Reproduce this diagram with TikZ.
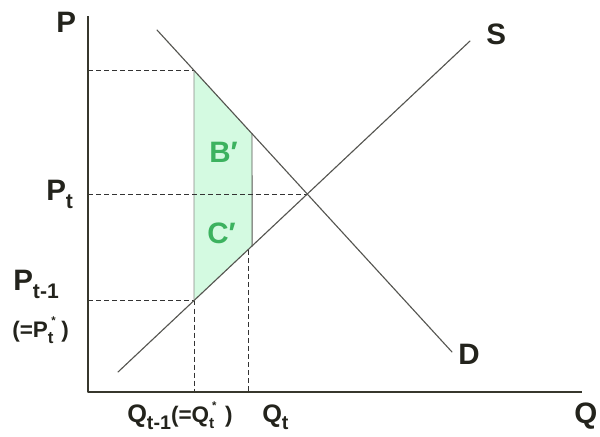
\documentclass[tikz,border=0pt]{standalone}
\usepackage{fontspec}
\setmainfont{Liberation Sans}
\usetikzlibrary{calc}

\definecolor{axisgray}{RGB}{55,55,45}
\definecolor{curvegray}{RGB}{85,85,80}
\definecolor{textdark}{RGB}{35,35,28}
\definecolor{areagreen}{RGB}{60,178,95}
\definecolor{areafill}{RGB}{212,250,225}

% subscript (size, text) and subscript with a star set just above its right side
\newcommand{\lsub}[2]{\raisebox{-0.28em}{\fontsize{#1}{#1}\selectfont #2}}
\newcommand{\lsubsup}[4]{\raisebox{-0.28em}{\fontsize{#1}{#1}\selectfont #3}\kern-1.5pt\raisebox{0.55em}{\fontsize{#2}{#2}\selectfont #4}}

\begin{document}
\begin{tikzpicture}[
		x=0.025cm,
		y=-0.025cm,
		line cap=round,
		line join=round,
		axis/.style={line width=1.4pt, draw=axisgray, line cap=butt},
		curve/.style={line width=0.8pt, draw=curvegray},
		edge/.style={line width=0.5pt, draw=curvegray!70},
		guide/.style={line width=0.6pt, draw=black!80, dash pattern=on 3.5pt off 2.2pt, line cap=butt},
		lbl/.style={font=\bfseries\fontsize{21}{23}\selectfont, text=textdark, inner sep=0pt, anchor=base west},
		qlbl/.style={lbl, font=\bfseries\fontsize{18}{20}\selectfont},
		note/.style={lbl, font=\bfseries\fontsize{16}{18}\selectfont},
		glbl/.style={lbl, text=areagreen}
		]
		
		\useasboundingbox (0,0) rectangle (600,436);
		
		%------------------------------------------------------------------
		% Coordinates
		%------------------------------------------------------------------
		\coordinate (O)     at ( 88,392);
		\coordinate (Ytop)  at ( 88, 16);
		\coordinate (Xend)  at (582,392);
		
		\coordinate (Dtop)  at (157, 30);
		\coordinate (Dbot)  at (452,352);
		\coordinate (Sbot)  at (118,372);
		\coordinate (Stop)  at (470, 41);
		
		% Equilibrium point
		\coordinate (E)     at (intersection of Dtop--Dbot and Sbot--Stop);
		
		% Corners of the shaded area
		\coordinate (Ltop)  at (intersection of Dtop--Dbot and 194,0--194,436);
		\coordinate (Lbot)  at (intersection of Sbot--Stop and 194,0--194,436);
		\coordinate (Rtop)  at (intersection of Dtop--Dbot and 252,0--252,436);
		\coordinate (Rbot)  at (intersection of Sbot--Stop and 252,0--252,436);
		\coordinate (Qs)    at (intersection of Sbot--Stop and 248,0--248,436);
		
		%------------------------------------------------------------------
		% Shaded area
		%------------------------------------------------------------------
		\fill[areafill] (Ltop) -- (Rtop) -- (Rbot) -- (Lbot) -- cycle;
		\draw[edge] (Ltop) -- (Lbot);
		\draw[line width=0.7pt, draw=curvegray] (Rtop) -- (Rbot);
		
		%------------------------------------------------------------------
		% Dashed guides
		%------------------------------------------------------------------
		\draw[guide] (Ltop -| O) -- (Ltop);
		\draw[guide] (E -| O) -- (E);
		\draw[guide] (Lbot -| O) -- (Lbot);
		\draw[guide] (Lbot) -- (Lbot |- O);
		\draw[guide] (Qs) -- (Qs |- O);
		
		%------------------------------------------------------------------
		% Demand and supply
		%------------------------------------------------------------------
		\draw[curve] (Dtop) -- (Dbot);
		\draw[curve] (Sbot) -- (Stop);
		
		%------------------------------------------------------------------
		% Axes
		%------------------------------------------------------------------
		\draw[axis] (Ytop) -- (O) -- (Xend);
		
		%------------------------------------------------------------------
		% Labels
		%------------------------------------------------------------------
		\node[lbl] (Plbl) at ( 56, 32) {P};
		\node[lbl] (Slbl) at (486, 44) {S};
		\node[lbl] (Dlbl) at (458,364) {D};
		\node[lbl] (Qlbl) at (574,423) {Q};
		
		\node[lbl]  (Pt)    at ( 46,200) {P\lsub{15}{t}};
		\node[lbl]  (Ptm)   at ( 13,290) {P\lsub{15}{t-1}};
		\node[note] (Pstar) at ( 12,337) {(=P\lsubsup{12}{8}{t}{*}\kern4pt)};
		
		\node[qlbl] (Qtm)   at (127,422) {Q\lsub{14}{t-1}{\fontsize{16}{18}\selectfont(=Q\lsubsup{11}{8}{t}{*}\kern6pt)}};
		\node[qlbl] (Qt)    at (262,422) {Q\lsub{14}{t}};
		
		\node[glbl] (Bp) at (209,162) {B′};
		\node[glbl] (Cp) at (207,243) {C′};
		
	\end{tikzpicture}
\end{document}
